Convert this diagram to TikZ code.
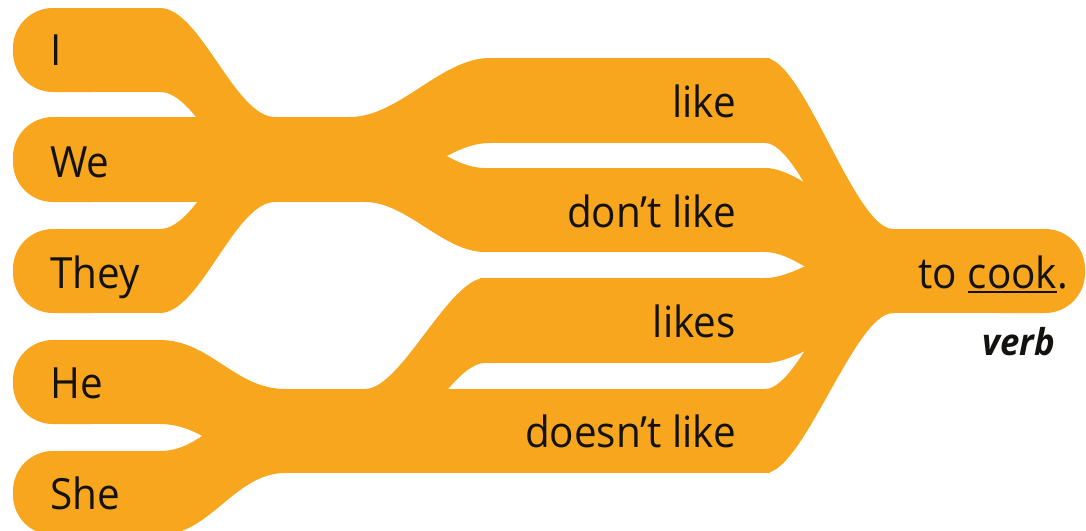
\documentclass[tikz,border=0pt]{standalone}
\usepackage{fontspec}
\setmainfont{Open Sans}[FakeStretch=0.94]
\usetikzlibrary{calc}
\definecolor{flowor}{RGB}{247,166,30}
\definecolor{txt}{RGB}{20,18,15}
\newcommand\flowband[7]{%
  \pgfmathsetmacro\fa{#1+(#4-#1)*#7}%
  \pgfmathsetmacro\fb{#4-(#4-#1)*#7}%
  \fill[orng] (#1,#2) .. controls (\fa,#2) and (\fb,#5) .. (#4,#5) -- (#4,#6) .. controls (\fb,#6) and (\fa,#3) .. (#1,#3) -- cycle;}
\newcommand\ulword[1]{\setbox0\hbox{#1}\rlap{\rule[-5pt]{\wd0}{2.2pt}}\box0}
\tikzset{
  orng/.style={fill=flowor},
  word/.style={inner sep=0pt, text=txt, font=\fontsize{43}{50}\selectfont},
  tag/.style={inner sep=0pt, text=txt, font=\fontsize{37}{42}\selectfont\bfseries\itshape}
}
\begin{document}
\begin{tikzpicture}[x=1pt,y=-1pt]
\useasboundingbox (0,0) rectangle (1086,530);
% left bars (rounded left ends)
\foreach \t/\b in {8/92,117/202,229/313,340/424,451/535}{
  \fill[orng, rounded corners=40pt] (13,\t) rectangle (133,\b);
  \fill[orng] (60,\t) rectangle (161,\b);
}
\fill[orng] (60,117) rectangle (380,202);
% merges on the left
\flowband{160}{8}{92}{275}{117}{202}{0.35}
\flowband{160}{229}{313}{275}{117}{202}{0.35}
\flowband{160}{340}{424}{285}{389}{473}{0.4}
\flowband{160}{451}{535}{285}{389}{473}{0.4}
% middle bars
\fill[orng] (485,58) rectangle (770,143);
\fill[orng] (480,168) rectangle (770,252);
\fill[orng] (480,278) rectangle (770,363);
\fill[orng] (280,389) rectangle (770,473);
% splits
\flowband{350}{117}{202}{490}{58}{143}{0.35}
\flowband{365}{117}{202}{485}{168}{252}{0.35}
\flowband{365}{389}{473}{485}{278}{363}{0.3}
% right merges
\flowband{765}{58}{143}{893}{229}{313}{0.3}
\flowband{765}{168}{252}{893}{229}{313}{0.3}
\flowband{765}{278}{363}{893}{229}{313}{0.3}
\flowband{765}{389}{473}{893}{229}{313}{0.3}
% cook bar
\fill[orng] (885,229) rectangle (1040,313);
\fill[orng, rounded corners=40pt] (960,229) rectangle (1085,313);
% texts
\node[word, anchor=base west] (tI) at (50,65) {I};
\node[word, anchor=base west] (tWe) at (50,177) {We};
\node[word, anchor=base west] (tThey) at (50,288) {They};
\node[word, anchor=base west] (tHe) at (50,398) {He};
\node[word, anchor=base west] (tShe) at (50,509) {She};
\node[word, anchor=base east] (tlike) at (736,117) {like};
\node[word, anchor=base east] (tdont) at (736,227) {don’t like};
\node[word, anchor=base east] (tlikes) at (736,337) {likes};
\node[word, anchor=base east] (tdoesnt) at (736,447) {doesn’t like};
\node[word, anchor=base east] (tcook) at (1068,288) {to \ulword{cook}.};
\node[tag, anchor=base east] (tverb) at (1055,355) {verb};
\end{tikzpicture}
\end{document}
